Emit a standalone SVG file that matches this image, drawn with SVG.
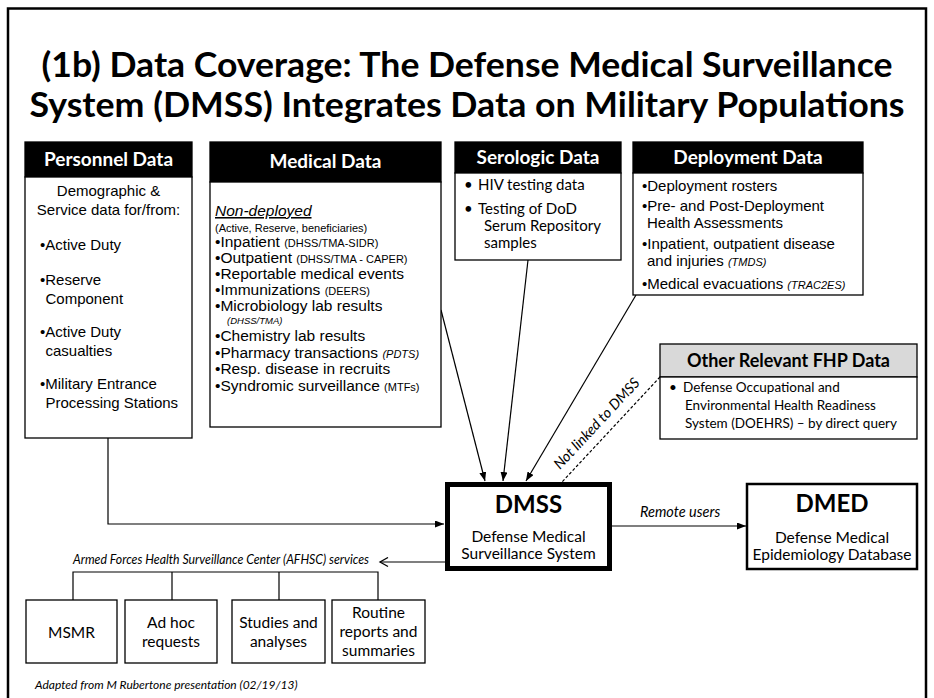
<svg xmlns="http://www.w3.org/2000/svg" width="934" height="698" viewBox="0 0 934 698">
<style>
.box{fill:#fff;stroke:#000;stroke-width:1.3}
.hdr{fill:#000;stroke:#000;stroke-width:1.3}
.ht{font-family:Lato,"Open Sans",sans-serif;font-weight:bold;font-size:19px;fill:#fff;text-anchor:middle}
.ar{font-family:"Liberation Sans",Arial,sans-serif;fill:#000}
.ca{font-family:Lato,"Open Sans",sans-serif;fill:#000}
.sm{font-size:11px}
.it{font-style:italic}
.mid{text-anchor:middle}
.con{fill:none;stroke:#000;stroke-width:1.2}
</style>
<defs>
<marker id="ah" markerUnits="userSpaceOnUse" markerWidth="9" markerHeight="7" refX="9" refY="3.5" orient="auto" viewBox="0 0 9 7">
<path d="M0,0 L9,3.5 L0,7 z" fill="#000"/>
</marker>
<marker id="oh" markerUnits="userSpaceOnUse" markerWidth="11" markerHeight="11" refX="9" refY="5" orient="auto" viewBox="0 0 11 10">
<path d="M1,0.5 L9,5 L1,9.5" fill="none" stroke="#000" stroke-width="1.3"/>
</marker>
</defs>
<rect x="0" y="0" width="934" height="698" fill="#fff"/>
<rect x="8" y="8.5" width="918" height="702" fill="#fff" stroke="#000" stroke-width="2.5"/>
<g id="title" class="ca" font-weight="bold" font-size="35" text-anchor="middle">
<text x="467" y="77" textLength="851" lengthAdjust="spacingAndGlyphs">(1b) Data Coverage: The Defense Medical Surveillance</text>
<text x="467" y="117" textLength="875" lengthAdjust="spacingAndGlyphs">System (DMSS) Integrates Data on Military Populations</text>
</g>
<g id="connectors">
<path class="con" d="M108,438 V524 H444" marker-end="url(#ah)"/>
<line class="con" x1="441" y1="310" x2="485" y2="481" marker-end="url(#ah)"/>
<line class="con" x1="528" y1="260" x2="503" y2="481" marker-end="url(#ah)"/>
<line class="con" x1="636" y1="295" x2="526" y2="481" marker-end="url(#ah)"/>
<line class="con" x1="660" y1="377" x2="562" y2="482" stroke-dasharray="3,2"/>
<line class="con" x1="612" y1="526" x2="746" y2="526" marker-end="url(#ah)"/>
<line class="con" x1="445" y1="562" x2="380" y2="562" marker-end="url(#oh)"/>
<path class="con" d="M73,600 V572 H378 V600 M172,572 V600 M279,572 V600"/>
<text class="ca it" font-size="14.5" x="640" y="517">Remote users</text>
<text class="ca it" font-size="13" x="73" y="564" textLength="296" lengthAdjust="spacingAndGlyphs">Armed Forces Health Surveillance Center (AFHSC) services</text>
<text class="ca it" font-size="14.5" transform="translate(560,470) rotate(-47)">Not linked to DMSS</text>
</g>
<g id="personnel">
<rect class="hdr" x="25" y="142" width="167" height="35"/>
<text class="ht" x="108.5" y="166">Personnel Data</text>
<rect class="box" x="25" y="177" width="167" height="261"/>
<g class="ar" font-size="15">
<text class="mid" x="108.5" y="196">Demographic &amp;</text>
<text class="mid" x="108.5" y="215">Service data for/from:</text>
<text x="40" y="250">•Active Duty</text>
<text x="40" y="285">•Reserve</text>
<text x="45.5" y="304">Component</text>
<text x="40" y="337">•Active Duty</text>
<text x="45.5" y="356">casualties</text>
<text x="40" y="389">•Military Entrance</text>
<text x="45.5" y="408">Processing Stations</text>
</g>
</g>
<g id="medical">
<rect class="hdr" x="210" y="142" width="231" height="40"/>
<text class="ht" x="325.5" y="168">Medical Data</text>
<rect class="box" x="210" y="182" width="231" height="245"/>
<g class="ar" font-size="15.5">
<text class="it" x="215" y="216" text-decoration="underline">Non-deployed</text>
<text class="sm" x="215" y="232" font-size="10.5">(Active, Reserve, beneficiaries)</text>
<text x="215" y="247">•Inpatient <tspan class="sm">(DHSS/TMA-SIDR)</tspan></text>
<text x="215" y="263">•Outpatient <tspan class="sm">(DHSS/TMA - CAPER)</tspan></text>
<text x="215" y="279">•Reportable medical events</text>
<text x="215" y="295">•Immunizations <tspan class="sm">(DEERS)</tspan></text>
<text x="215" y="311">•Microbiology lab results</text>
<text class="it" font-size="9.5" x="227" y="324">(DHSS/TMA)</text>
<text x="215" y="341">•Chemistry lab results</text>
<text x="215" y="358">•Pharmacy transactions <tspan class="sm it">(PDTS)</tspan></text>
<text x="215" y="374">•Resp. disease in recruits</text>
<text x="215" y="391">•Syndromic surveillance <tspan class="sm">(MTFs)</tspan></text>
</g>
</g>
<g id="serologic">
<rect class="hdr" x="455" y="142" width="166" height="31"/>
<text class="ht" x="538" y="164">Serologic Data</text>
<rect class="box" x="455" y="173" width="166" height="87"/>
<g class="ca" font-size="15">
<text x="464" y="190">•</text><text x="478" y="190">HIV testing data</text>
<text x="464" y="214">•</text><text x="478" y="214">Testing of DoD</text>
<text x="484" y="231">Serum Repository</text>
<text x="484" y="248">samples</text>
</g>
</g>
<g id="deployment">
<rect class="hdr" x="633" y="142" width="230" height="31"/>
<text class="ht" x="748" y="164">Deployment Data</text>
<rect class="box" x="633" y="173" width="230" height="122"/>
<g class="ar" font-size="15">
<text x="642" y="191">•Deployment rosters</text>
<text x="642" y="211">•Pre- and Post-Deployment</text>
<text x="647" y="228">Health Assessments</text>
<text x="642" y="249">•Inpatient, outpatient disease</text>
<text x="647" y="266">and injuries <tspan class="sm it">(TMDS)</tspan></text>
<text x="642" y="289">•Medical evacuations <tspan class="sm it">(TRAC2ES)</tspan></text>
</g>
</g>
<g id="fhp">
<rect x="660" y="344" width="257" height="33" fill="#d9d9d9" stroke="#000" stroke-width="1.3"/>
<text class="ca mid" font-weight="bold" font-size="18" x="788.5" y="367">Other Relevant FHP Data</text>
<rect class="box" x="660" y="377" width="257" height="62"/>
<g class="ca" font-size="13.5">
<text x="669" y="392">•</text><text x="683" y="392">Defense Occupational and</text>
<text x="685" y="410">Environmental Health Readiness</text>
<text x="685" y="428">System (DOEHRS) – by direct query</text>
</g>
</g>
<g id="dmss">
<rect x="447.5" y="484.5" width="162" height="84" fill="#fff" stroke="#000" stroke-width="5"/>
<text class="ca mid" font-weight="bold" font-size="24" x="528.5" y="513">DMSS</text>
<text class="ca mid" font-size="15.5" x="528.5" y="542">Defense Medical</text>
<text class="ca mid" font-size="15.5" x="528.5" y="559">Surveillance System</text>
</g>
<g id="dmed">
<rect x="747" y="484" width="170" height="85" fill="#fff" stroke="#000" stroke-width="2.5"/>
<text class="ca mid" font-weight="bold" font-size="24" x="832" y="512">DMED</text>
<text class="ca mid" font-size="15.5" x="832" y="543">Defense Medical</text>
<text class="ca mid" font-size="15.5" x="832" y="560">Epidemiology Database</text>
</g>
<g id="msmr">
<rect class="box" x="26" y="600" width="91" height="63"/>
<text class="ca mid" font-size="15.5" x="71.5" y="638">MSMR</text>
</g>
<g id="adhoc">
<rect class="box" x="125" y="600" width="92" height="63"/>
<text class="ca mid" font-size="15.5" x="171" y="628">Ad hoc</text>
<text class="ca mid" font-size="15.5" x="171" y="647">requests</text>
</g>
<g id="studies">
<rect class="box" x="232" y="600" width="93" height="63"/>
<text class="ca mid" font-size="15.5" x="278.5" y="628">Studies and</text>
<text class="ca mid" font-size="15.5" x="278.5" y="647">analyses</text>
</g>
<g id="routine">
<rect class="box" x="332" y="600" width="93" height="63"/>
<text class="ca mid" font-size="15.5" x="378.5" y="618">Routine</text>
<text class="ca mid" font-size="15.5" x="378.5" y="637">reports and</text>
<text class="ca mid" font-size="15.5" x="378.5" y="656">summaries</text>
</g>
<text class="ca it" font-size="12" x="35" y="689">Adapted from M Rubertone presentation (02/19/13)</text>
</svg>
